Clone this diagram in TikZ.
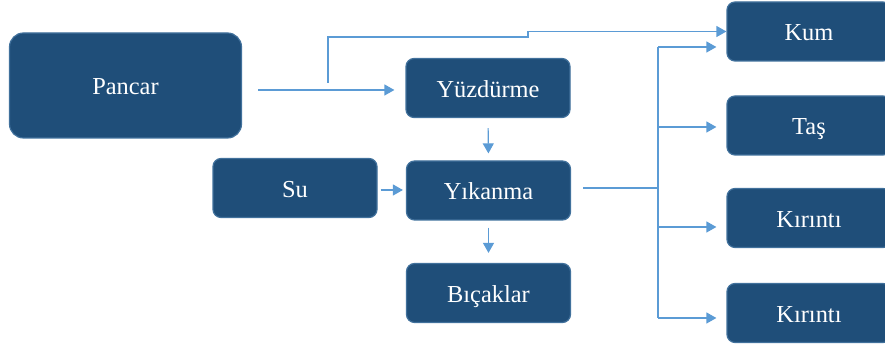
\documentclass[tikz,border=0pt]{standalone}
\usepackage{fontspec}
\setmainfont{Liberation Serif}
\usepackage{tikz}
\usetikzlibrary{arrows.meta,positioning,calc}

\definecolor{boxfill}{HTML}{1F4E79}
\definecolor{boxline}{HTML}{41719C}
\definecolor{arrowblue}{HTML}{5B9BD5}

\begin{document}
\begin{tikzpicture}[
    x=0.5pt, y=-0.5pt,
    box/.style={rectangle, rounded corners=4pt, draw=boxline, fill=boxfill,
                line width=0.6pt, text=white, minimum width=82pt,
                minimum height=29.5pt, inner sep=0pt,
                text height=9.5pt, text depth=0pt,
                font=\fontsize{12.2}{14}\selectfont},
    bigbox/.style={box, rounded corners=7pt, minimum width=116pt, minimum height=52.5pt},
    arrow/.style={-{Triangle[length=5pt, width=5.5pt]}, draw=arrowblue, line width=0.6pt},
    line/.style={draw=arrowblue, line width=0.6pt}
]
\useasboundingbox (0,0) rectangle (885,351);

% ================= NODES =================
\node[bigbox] (Pancar) at (125.5, 85.5) {Pancar};

\node[box] (Yuzdurme) at (488, 88) {Yüzdürme};
\node[box] (Su) at (295, 188) {Su};
\node[box] (Yikanma) at (488.5, 190.5) {Yıkanma};
\node[box] (Bicaklar) at (488.5, 293) {Bıçaklar};

\node[box] (Kum) at (809, 31.5) {Kum};
\node[box] (Tas) at (809, 125.5) {Taş};
\node[box] (Kirinti1) at (809, 218) {Kırıntı};
\node[box] (Kirinti2) at (809, 313) {Kırıntı};

% ================= COORDINATES =================
\coordinate (Split) at (328, 83);
\coordinate (Step) at (528, 37);
\coordinate (Bus) at (658, 188);
\coordinate (B1) at (658, 47);
\coordinate (B2) at (658, 127);
\coordinate (B3) at (658, 227);
\coordinate (B4) at (658, 318);

% ================= DRAWING ARROWS =================
\draw[arrow, shorten <=8pt, shorten >=5.5pt] (Pancar.east |- 0,90) -- (Yuzdurme.west |- 0,90);
\draw[arrow] (Split) |- (Step) |- (Kum.west);
\draw[arrow, shorten <=5pt, shorten >=3.5pt] (Yuzdurme.south) -- (Yikanma.north);
\draw[arrow, shorten <=1.5pt, shorten >=1.5pt] (Su.east |- 0,190) -- (Yikanma.west |- 0,190);
\draw[arrow, shorten <=3.5pt, shorten >=5pt] (Yikanma.south) -- (Bicaklar.north);
\draw[line, shorten <=6pt] (Yikanma.east |- Bus) -- (Bus);
\draw[line] (B1) -- (B4);
\draw[arrow, shorten >=5pt] (B1) -- (Kum.west |- B1);
\draw[arrow, shorten >=5pt] (B2) -- (Tas.west |- B2);
\draw[arrow, shorten >=5pt] (B3) -- (Kirinti1.west |- B3);
\draw[arrow, shorten >=5pt] (B4) -- (Kirinti2.west |- B4);

\end{tikzpicture}
\end{document}
